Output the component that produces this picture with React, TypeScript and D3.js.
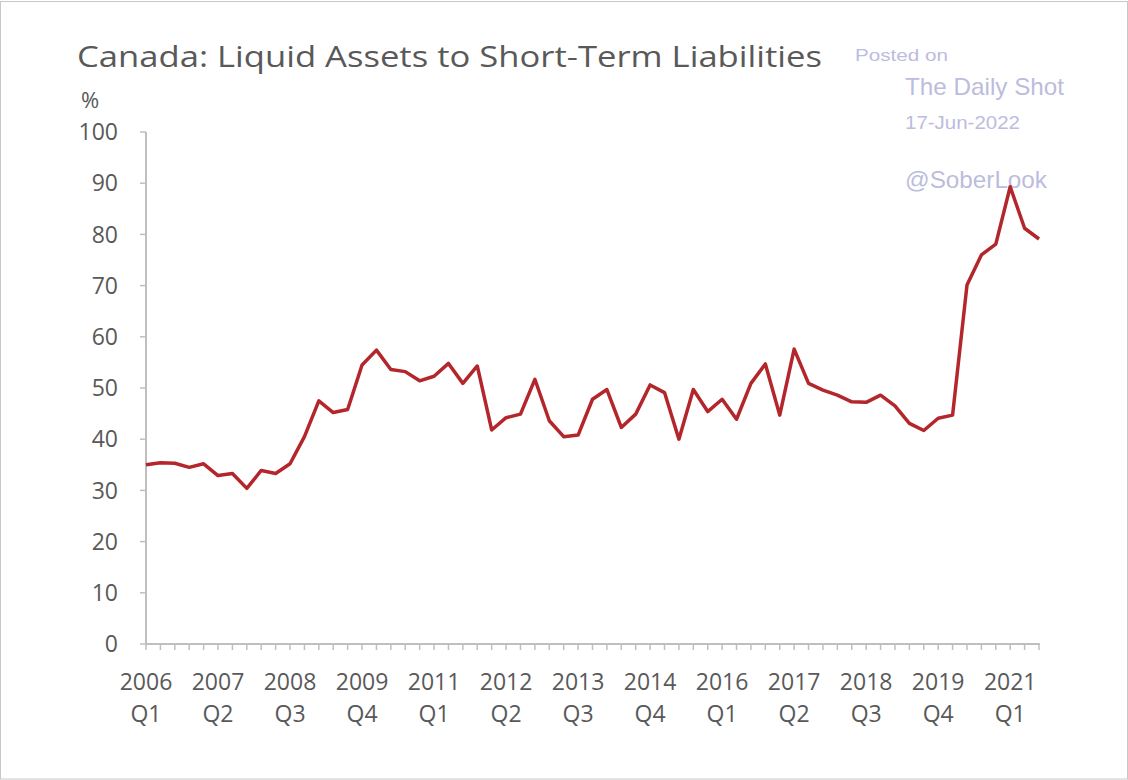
import React from "react";
import * as d3 from "d3";

const quarters: string[] = [];
for (let y = 2006; y <= 2021; y++) {
  for (let q = 1; q <= 4; q++) {
    if (y === 2021 && q > 3) break;
    quarters.push(`${y} Q${q}`);
  }
}

const values: number[] = [
  35.0, 35.4, 35.3, 34.5, 35.2, 32.9, 33.3, 30.4, 33.9, 33.3,
  35.2, 40.5, 47.5, 45.2, 45.8, 54.5, 57.4, 53.6, 53.2, 51.4,
  52.3, 54.8, 50.9, 54.3, 41.8, 44.2, 44.9, 51.7, 43.6, 40.5,
  40.8, 47.8, 49.7, 42.3, 44.9, 50.6, 49.1, 40.0, 49.7, 45.4,
  47.8, 43.9, 50.9, 54.7, 44.7, 57.6, 50.9, 49.6, 48.6, 47.3,
  47.2, 48.6, 46.5, 43.1, 41.7, 44.1, 44.7, 70.1, 76.0, 78.1,
  89.3, 81.2, 79.1,
];

const yTicks: number[] = [0, 10, 20, 30, 40, 50, 60, 70, 80, 90, 100];
const labelEvery = 5;

const W = 1128;
const H = 780;
const left = 146;
const right = 1039;
const top = 132;
const bottom = 644;

export default function App() {
  const x = d3.scalePoint<string>().domain(quarters).range([left, right]);
  const y = d3.scaleLinear().domain([0, 100]).range([bottom, top]);
  const line = d3
    .line<number>()
    .x((_, i) => x(quarters[i]) as number)
    .y((d) => y(d));

  const axisColor = "#bfbfbf";
  const textColor = "#595959";
  const font = "'Open Sans', 'Noto Sans', sans-serif";
  const wm = "#bcbcde";

  return (
    <svg
      width={W}
      height={H}
      style={{ position: "absolute", left: 0, top: 0, background: "#fff" }}
    >
      <rect x={0.5} y={1.5} width={W - 1} height={H - 2.5} fill="#fff" stroke="#c8c8c8" />
      <text
        x={77}
        y={67}
        fontFamily={font}
        fontSize={30}
        fill={textColor}
        textLength={745}
        lengthAdjust="spacingAndGlyphs"
      >
        Canada: Liquid Assets to Short-Term Liabilities
      </text>
      <text x={81} y={108} fontFamily={font} fontSize={22} fill={textColor}>
        %
      </text>

      {/* watermark */}
      <g fontFamily="'Liberation Sans', Arial, sans-serif" fill={wm}>
        <text x={855} y={61} fontSize={17} textLength={93} lengthAdjust="spacingAndGlyphs">Posted on</text>
        <text x={905} y={95} fontSize={24} textLength={159} lengthAdjust="spacingAndGlyphs">The Daily Shot</text>
        <text x={905} y={129} fontSize={19} textLength={115} lengthAdjust="spacingAndGlyphs">17-Jun-2022</text>
        <text x={905} y={188} fontSize={24} textLength={142} lengthAdjust="spacingAndGlyphs">@SoberLook</text>
      </g>

      {/* y axis */}
      <line x1={left} x2={left} y1={top} y2={bottom} stroke={axisColor} strokeWidth={2} />
      {yTicks.map((t) => (
        <g key={t}>
          <line x1={left - 6} x2={left} y1={y(t)} y2={y(t)} stroke={axisColor} strokeWidth={1.5} />
          <text
            x={118}
            y={y(t)}
            dy="0.36em"
            textAnchor="end"
            fontFamily={font}
            fontSize={23}
            fill={textColor}
          >
            {t}
          </text>
        </g>
      ))}

      {/* x axis */}
      <line x1={left} x2={right + 1} y1={bottom} y2={bottom} stroke={axisColor} strokeWidth={2} />
      {quarters.map((q, i) => {
        const xp = x(q) as number;
        const [yr, qq] = q.split(" ");
        return (
          <g key={q}>
            <line x1={xp} x2={xp} y1={bottom} y2={bottom + 6} stroke={axisColor} strokeWidth={1.5} />
            {i % labelEvery === 0 && (
              <text textAnchor="middle" fontFamily={font} fontSize={23} fill={textColor}>
                <tspan x={xp} y={690}>{yr}</tspan>
                <tspan x={xp} y={722}>{qq}</tspan>
              </text>
            )}
          </g>
        );
      })}

      <path
        d={line(values) || ""}
        fill="none"
        stroke="#b3262b"
        strokeWidth={3.5}
        strokeLinejoin="round"
      />
    </svg>
  );
}
